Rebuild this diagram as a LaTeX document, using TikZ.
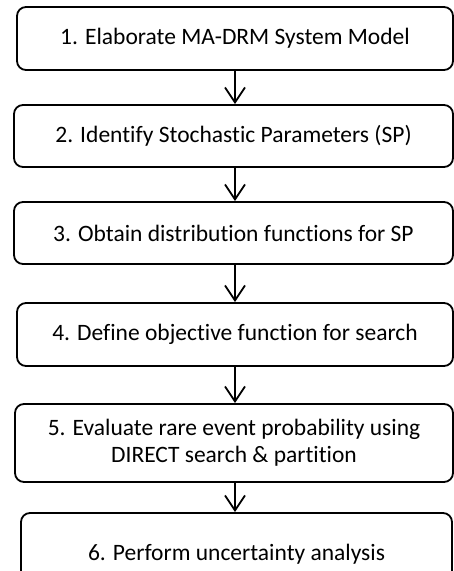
\documentclass[tikz,border=0pt]{standalone}
\usepackage{fontspec}
\setmainfont{Carlito}[Ligatures={NoCommon}]
\usetikzlibrary{arrows.meta}
\begin{document}
\begin{tikzpicture}[x=1bp,y=-1bp,
  stepbox/.style={draw, line width=1.8bp, rounded corners=9bp, inner sep=0pt,
    font=\fontsize{23.5bp}{27bp}\selectfont, align=center},
  arr/.style={line width=1.8bp, -{Straight Barb[length=15bp,width=20bp,line width=1.8bp]}}]
\useasboundingbox (0,0) rectangle (454,571);
\node[stepbox, minimum width=436bp, minimum height=63bp] (b1) at (235,38.5) {1. Elaborate MA-DRM System Model};
\node[stepbox, minimum width=439bp, minimum height=62bp] (b2) at (233.5,136) {2. Identify Stochastic Parameters (SP)};
\node[stepbox, minimum width=439bp, minimum height=62bp] (b3) at (233.5,233) {3. Obtain distribution functions for SP};
\node[stepbox, minimum width=436bp, minimum height=63bp] (b4) at (235,334.5) {4. Define objective function for search};
\node[stepbox, minimum width=438bp, minimum height=78bp] (b5) at (234,443) {5. Evaluate rare event probability using\\DIRECT search \& partition};
\node[stepbox, minimum width=431bp, minimum height=82bp] (b6) at (236.5,554) {6. Perform uncertainty analysis};
\coordinate (c5) at (b5.south -| b4.south);
\coordinate (c6) at (b6.north -| b4.south);
\draw[arr] (b1.south) -- (b1.south |- b2.north);
\draw[arr] (b2.south -| b1.south) -- (b1.south |- b3.north);
\draw[arr] (b3.south -| b1.south) -- (b1.south |- b4.north);
\draw[arr] (b4.south) -- (b4.south |- b5.north);
\draw[arr] (c5) -- (c6);
\end{tikzpicture}
\end{document}
